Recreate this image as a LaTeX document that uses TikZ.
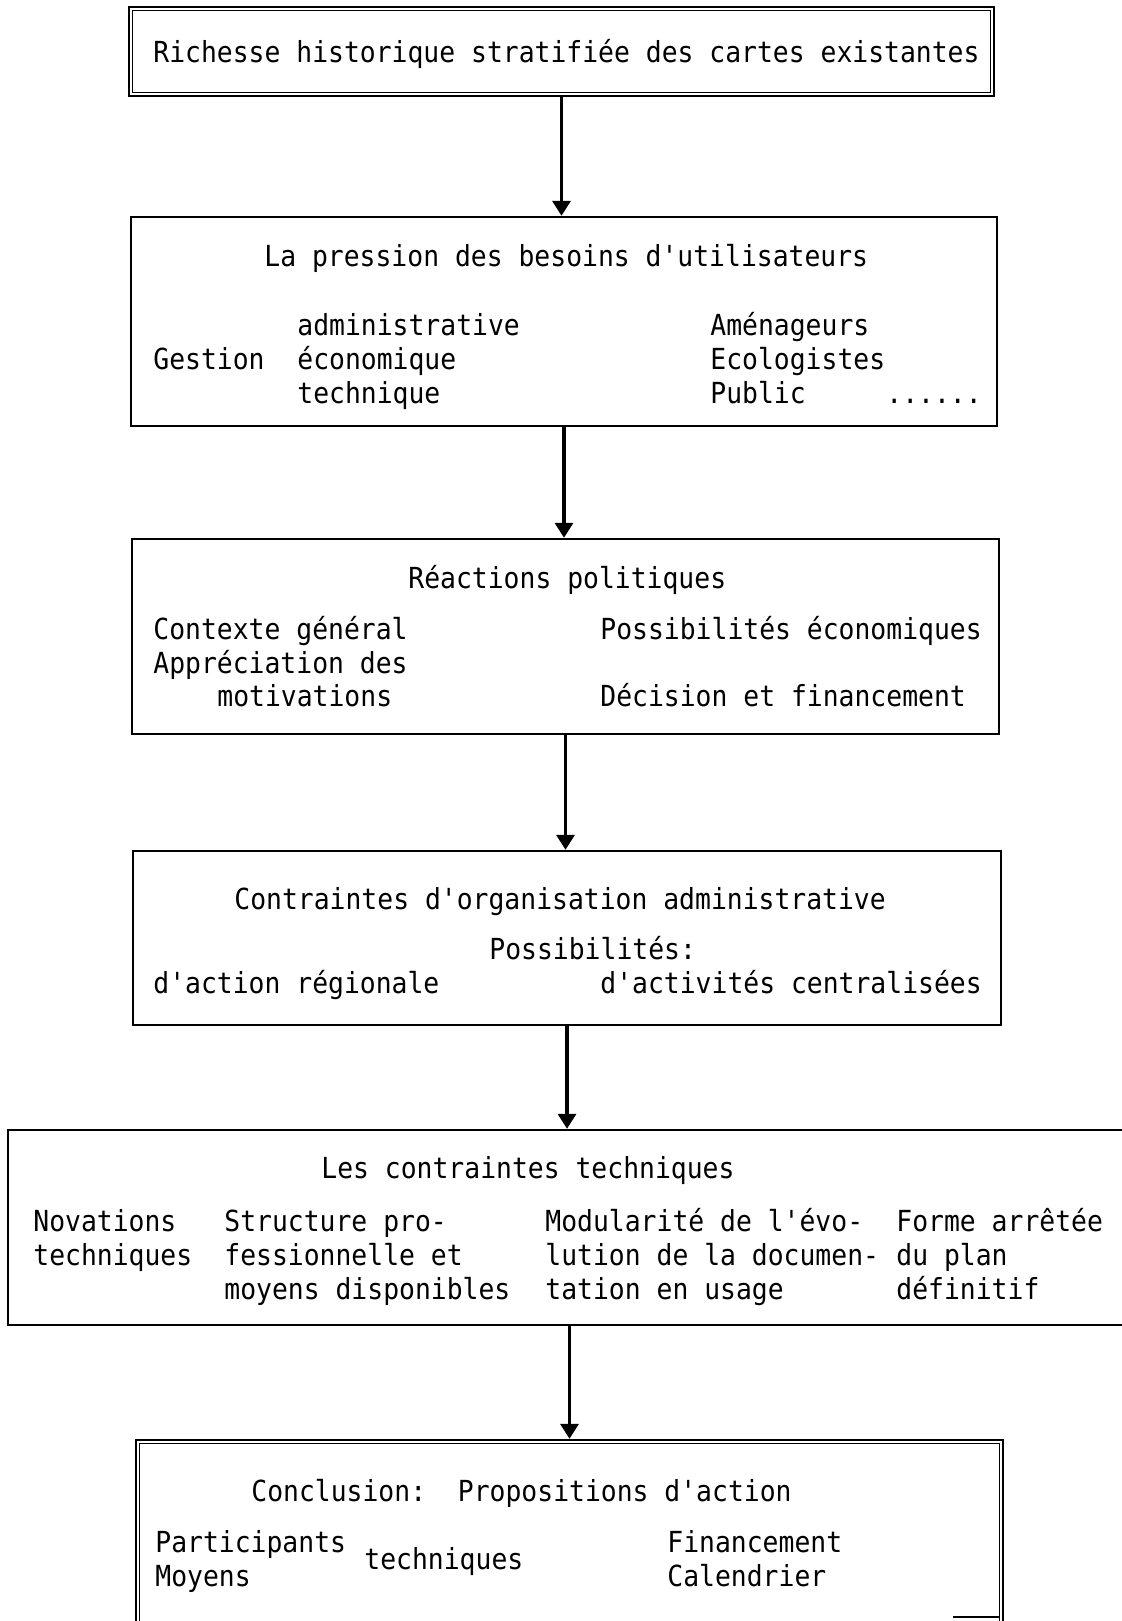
\documentclass[tikz,border=0pt]{standalone}
\usepackage{fontspec}
\setmonofont{DejaVu Sans Mono}[FakeStretch=0.91]
\usetikzlibrary{arrows.meta,fit}

\tikzset{
  box/.style={draw, line width=1.2pt, inner sep=0pt},
  inbox/.style={draw, line width=0.6pt},
  txt/.style={anchor=base west, inner sep=0pt, align=left,
    font=\ttfamily\fontsize{14.5pt}{17pt}\selectfont},
  flow/.style={line width=1.7pt, -{Triangle[length=7.5pt,width=9pt]}}
}

\begin{document}
\begin{tikzpicture}[x=0.5pt,y=-0.5pt]

  % page
  \fill[white] (0,0) rectangle (1121,1621);
  \useasboundingbox (0,0) rectangle (1121,1621);

  % boxes
  \node[box, fit={(129,7) (994,96)}] (b1) {};
  \draw[inbox] ([shift={(5,5)}]b1.north west) rectangle ([shift={(-5,-5)}]b1.south east);
  \node[box, fit={(131,217) (997,426)}] (b2) {};
  \node[box, fit={(132,539) (999,734)}] (b3) {};
  \node[box, fit={(133,851) (1001,1025)}] (b4) {};
  \node[box, fit={(8,1130) (1150,1325)}] (b5) {};
  \node[box, fit={(136,1440) (1003,1668)}] (b6) {};
  \draw[inbox] ([shift={(5,5)}]b6.north west) rectangle ([shift={(-5,-5)}]b6.south east);
  \draw[line width=1pt] (953,1617) -- (999,1617);

  % arrows
  \draw[flow] (b1.south) -- (b1.south |- b2.north);
  \draw[flow] (b2.south) -- (b2.south |- b3.north);
  \draw[flow] (b3.south) -- (b3.south |- b4.north);
  \draw[flow] (b4.south) -- (b4.south |- b5.north);
  \draw[flow] (b6.north |- b5.south) -- (b6.north);

  % texts of box 1 (multi-line nodes sit on their last line)
  \node[txt] (rich) at (153,63) {Richesse historique stratifiée des cartes existantes};

  % texts of box 2
  \node[txt] (pression) at (264,266) {La pression des besoins d'utilisateurs};
  \node[txt] (gestion) at (153,369) {Gestion};
  \node[txt] (gesttype) at (297,403) {administrative\\économique\\technique};
  \node[txt] (users) at (710,403) {Aménageurs\\Ecologistes\\Public};
  \node[txt] (etc) at (886,403) {......};

  % texts of box 3
  \node[txt] (reac) at (408,588) {Réactions politiques};
  \node[txt] (contexte) at (153,673) {Contexte général\\Appréciation des};
  \node[txt] (motiv) at (217,706) {motivations};
  \node[txt] (possib) at (600,639) {Possibilités économiques};
  \node[txt] (decis) at (600,706) {Décision et financement};

  % texts of box 4
  \node[txt] (orga) at (234,909) {Contraintes d'organisation administrative};
  \node[txt] (possorg) at (489,959) {Possibilités:};
  \node[txt] (region) at (153,993) {d'action régionale};
  \node[txt] (central) at (600,993) {d'activités centralisées};

  % texts of box 5
  \node[txt] (contr) at (321,1178) {Les contraintes techniques};
  \node[txt] (novat) at (33,1265) {Novations\\techniques};
  \node[txt] (struct) at (224,1299) {Structure pro-\\fessionnelle et\\moyens disponibles};
  \node[txt] (modul) at (545,1299) {Modularité de l'évo-\\lution de la documen-\\tation en usage};
  \node[txt] (forme) at (896,1299) {Forme arrêtée\\du plan\\définitif};

  % texts of box 6
  \node[txt] (concl) at (251,1501) {Conclusion:\ \ Propositions d'action};
  \node[txt] (partic) at (155,1586) {Participants\\Moyens};
  \node[txt] (techn) at (364,1569) {techniques};
  \node[txt] (financ) at (667,1586) {Financement\\Calendrier};

\end{tikzpicture}
\end{document}
